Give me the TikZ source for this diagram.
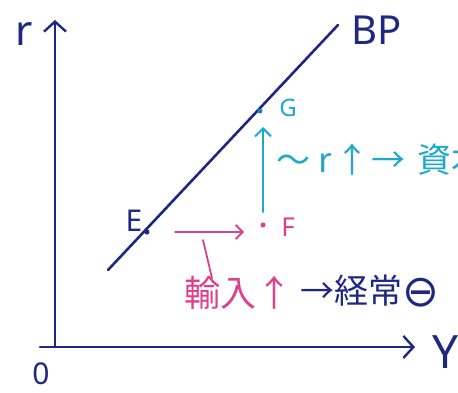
\documentclass[tikz,border=0pt]{standalone}
\usepackage{fontspec}
\newfontfamily\cjk{Noto Sans CJK JP}
\newfontfamily\symf{DejaVu Sans}
\setsansfont{Noto Sans}
\usetikzlibrary{arrows.meta,positioning,calc}
\definecolor{pen}{RGB}{30,40,130}
\definecolor{pinkpen}{RGB}{222,64,140}
\definecolor{cyanpen}{RGB}{30,168,204}

\begin{document}
\begin{tikzpicture}[x=1pt,y=-1pt,
  axis/.style={draw=pen, line width=2.4pt, line cap=round, -{Straight Barb[length=10pt,width=22pt,line width=2.4pt]}},
  curve/.style={draw=pen, line width=2.6pt, line cap=round},
  dot/.style={circle, fill=#1, inner sep=1.8pt},
  lbl/.style={font=\sffamily\fontsize{#1}{#1}\selectfont},
  jp/.style={font=\cjk\fontsize{#1}{#1}\selectfont, inner sep=0pt}
]
\useasboundingbox (0,0) rectangle (458,393);

% axes
\coordinate (O) at (55,347);
\coordinate (rtop) at (55,20);
\coordinate (xl) at (40,347);
\coordinate (yend) at (415,347);
\draw[axis] (O) -- (rtop);
\draw[axis] (xl) -- (yend);
\node[lbl=42, text=pen] (rlab) at (24,34) {r};
\node[lbl=30, text=pen] (olab) at (41,374) {0};
\node[lbl=46, text=pen] (ylab) at (446,352) {Y};

% BP curve
\coordinate (bpA) at (108,270);
\coordinate (bpB) at (338,25);
\draw[curve] (bpA) -- (bpB);
\node[lbl=40, text=pen] (bp) at (377,30) {BP};

% points
\node[dot=pen] (E) at (147,232) {};
\node[lbl=30, text=pen] (elab) at (134,221) {E};
\node[dot=cyanpen!70!pen] (G) at (260,111) {};
\node[lbl=24, text=cyanpen] (glab) at (288,108) {G};
\node[dot=pinkpen] (F) at (263,225) {};
\node[lbl=26, text=pinkpen] (flab) at (288,227) {F};

% arrows
\coordinate (mstart) at (175,232);
\draw[pinkpen, line width=1.8pt, line cap=round, -{Straight Barb[length=7pt,width=14pt,line width=1.8pt]}, shorten >=19pt] (mstart) -- (F.center |- mstart);
\draw[cyanpen, line width=2pt, line cap=round, -{Straight Barb[length=8pt,width=16pt,line width=2pt]}, shorten <=13pt, shorten >=16pt] (F.center) -- (F.center |- G);

% texts
\node[jp=34, text=cyanpen, anchor=west] (cap) at (276,160) {〜\hspace{8pt}r\hspace{4pt}↑\hspace{2pt}→\hspace{12pt}資本};
\node[jp=36, text=pinkpen, anchor=west] (imp) at (184,293) {輸入↑};
\node[jp=34, text=pen, anchor=west] (cur) at (300,291) {→経常\raisebox{-3pt}{\symf\fontsize{44}{44}\selectfont ⊖}};
\coordinate (lead) at (203,240);
\coordinate (leadend) at (212,278);
\draw[pinkpen, line width=1.8pt, line cap=round] (lead) -- (leadend);
\end{tikzpicture}
\end{document}
